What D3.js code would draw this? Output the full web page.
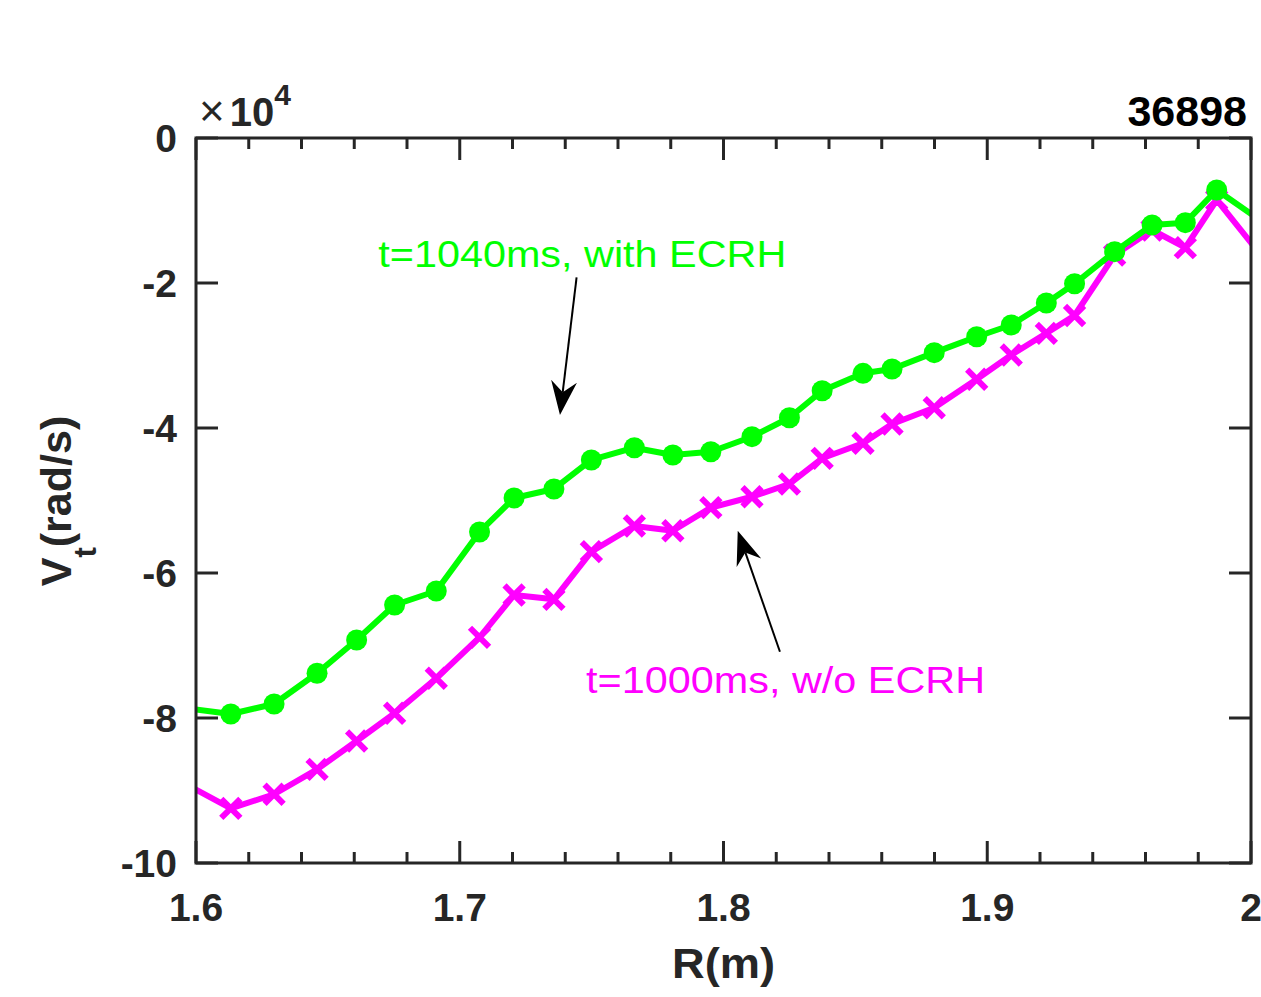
<!DOCTYPE html>
<html>
<head>
<meta charset="utf-8">
<title>Vt profile 36898</title>
<style>
  body { margin: 0; background: #fff; }
  text { font-family: 'Liberation Sans', Arial, sans-serif; }
</style>
<script src="https://d3js.org/d3.v7.min.js"></script>
</head>
<body>
<div id="container"></div>
<script>
// ******* Data (Vt in units of 1e4 rad/s) *******
const radius = [1.597, 1.6132, 1.6296, 1.6459, 1.6609, 1.6753, 1.6911, 1.7075, 1.7206, 1.7357,
                1.7499, 1.7662, 1.7808, 1.7952, 1.8108, 1.8250, 1.8374, 1.8529, 1.8639, 1.8799,
                1.8960, 1.9091, 1.9224, 1.9331, 1.9483, 1.9625, 1.9751, 1.9870, 2.010];

const vtWithEcrh = [-7.87, -7.945, -7.807, -7.383, -6.924, -6.441, -6.248, -5.434, -4.966, -4.841,
                    -4.441, -4.272, -4.372, -4.327, -4.120, -3.858, -3.486, -3.246, -3.186, -2.961,
                    -2.741, -2.579, -2.276, -2.010, -1.568, -1.200, -1.168, -0.717, -1.30];

const vtWithoutEcrh = [-8.93, -9.246, -9.052, -8.708, -8.317, -7.935, -7.452, -6.887, -6.303, -6.363,
                       -5.706, -5.352, -5.417, -5.099, -4.948, -4.772, -4.418, -4.211, -3.945, -3.720,
                       -3.328, -2.993, -2.694, -2.448, -1.614, -1.269, -1.513, -0.855, -1.90];

const xTicks = [1.6, 1.7, 1.8, 1.9, 2.0];
const xTickLabels = ["1.6", "1.7", "1.8", "1.9", "2"];
const xMinorTicks = d3.range(1.62, 2.0, 0.02);
const yTicks = [0, -2, -4, -6, -8, -10];
const yTickLabels = ["0", "-2", "-4", "-6", "-8", "-10"];

// annotation text + arrows: [R, Vt] in data units
const labelWith = { text: "t=1040ms, with ECRH", at: [1.6691, -1.779] };
const labelWithout = { text: "t=1000ms, w/o ECRH", at: [1.7479, -7.655] };
const arrowWith = { from: [1.7443, -1.921], to: [1.7380, -3.821] };
const arrowWithout = { from: [1.8214, -7.086], to: [1.8054, -5.417] };

// ******* Constants *******
const width = 1261,
      height = 997,
      margin = { top: 138, bottom: 134, left: 196, right: 10 };
const axisColor = "#262626";
const green = "#00ff00", magenta = "#ff00ff";

// ******* Scales *******
const x = d3.scaleLinear()
    .domain([1.6, 2.0])
    .range([margin.left, width - margin.right]);
const y = d3.scaleLinear()
    .domain([-10, 0])
    .range([height - margin.bottom, margin.top]);

const svg = d3.select("#container").append("svg")
    .attr("width", width)
    .attr("height", height)
    .style("display", "block");

const x0 = x.range()[0], x1 = x.range()[1];
const y0 = y.range()[1], y1 = y.range()[0];

svg.append("clipPath").attr("id", "plot-clip")
  .append("rect")
    .attr("x", x0).attr("y", y0)
    .attr("width", x1 - x0).attr("height", y1 - y0);

// ******* Series *******
const line = d3.line()
    .x(d => x(d[0]))
    .y(d => y(d[1]));

const inDomain = d => d[0] >= 1.6 && d[0] <= 2.0;

const dataWithout = radius.map((r, i) => [r, vtWithoutEcrh[i]]);
const dataWith = radius.map((r, i) => [r, vtWithEcrh[i]]);

const plot = svg.append("g").attr("clip-path", "url(#plot-clip)");

plot.append("path")
    .datum(dataWithout)
    .attr("fill", "none")
    .attr("stroke", magenta)
    .attr("stroke-width", 6)
    .attr("stroke-linejoin", "round")
    .attr("d", line);

const cross = d3.symbol().type(d3.symbolX).size(240);
plot.selectAll("path.xmark")
    .data(dataWithout.filter(inDomain))
    .enter().append("path")
    .attr("class", "xmark")
    .attr("d", cross())
    .attr("stroke", magenta)
    .attr("stroke-width", 6)
    .attr("fill", "none")
    .attr("transform", d => `translate(${x(d[0])},${y(d[1])})`);

plot.append("path")
    .datum(dataWith)
    .attr("fill", "none")
    .attr("stroke", green)
    .attr("stroke-width", 6)
    .attr("stroke-linejoin", "round")
    .attr("d", line);

plot.selectAll("circle.dot")
    .data(dataWith.filter(inDomain))
    .enter().append("circle")
    .attr("class", "dot")
    .attr("cx", d => x(d[0]))
    .attr("cy", d => y(d[1]))
    .attr("r", 10.5)
    .attr("fill", green);

// ******* Axes box + ticks *******
const axes = svg.append("g").attr("stroke", axisColor).attr("stroke-width", 3);

axes.append("rect")
    .attr("x", x0).attr("y", y0)
    .attr("width", x1 - x0).attr("height", y1 - y0)
    .attr("fill", "none");

const majorLen = 22, minorLen = 11;

xTicks.forEach(t => {
  axes.append("line").attr("x1", x(t)).attr("x2", x(t)).attr("y1", y1).attr("y2", y1 - majorLen);
  axes.append("line").attr("x1", x(t)).attr("x2", x(t)).attr("y1", y0).attr("y2", y0 + majorLen);
});
xMinorTicks.forEach(t => {
  if (xTicks.some(m => Math.abs(m - t) < 1e-6)) return;
  axes.append("line").attr("x1", x(t)).attr("x2", x(t)).attr("y1", y1).attr("y2", y1 - minorLen);
  axes.append("line").attr("x1", x(t)).attr("x2", x(t)).attr("y1", y0).attr("y2", y0 + minorLen);
});
yTicks.forEach(t => {
  axes.append("line").attr("y1", y(t)).attr("y2", y(t)).attr("x1", x0).attr("x2", x0 + majorLen);
  axes.append("line").attr("y1", y(t)).attr("y2", y(t)).attr("x1", x1).attr("x2", x1 - majorLen);
});

// tick labels
svg.append("g").selectAll("text")
    .data(xTicks)
    .enter().append("text")
    .attr("x", d => x(d))
    .attr("y", y1 + 58)
    .attr("text-anchor", "middle")
    .attr("font-size", 39)
    .attr("font-weight", "bold")
    .attr("fill", axisColor)
    .text((d, i) => xTickLabels[i]);

svg.append("g").selectAll("text")
    .data(yTicks)
    .enter().append("text")
    .attr("x", x0 - 19)
    .attr("y", d => y(d) + 14)
    .attr("text-anchor", "end")
    .attr("font-size", 39)
    .attr("font-weight", "bold")
    .attr("fill", axisColor)
    .text((d, i) => yTickLabels[i]);

// exponent
const expo = svg.append("text")
    .attr("x", 199)
    .attr("y", 126)
    .attr("fill", axisColor);
expo.append("tspan").attr("font-size", 44).text("\u00d7");
expo.append("tspan").attr("font-size", 40).attr("font-weight", "bold").attr("dx", 5).text("10");
expo.append("tspan").attr("font-size", 30).attr("font-weight", "bold").attr("dy", -21).text("4");

// title (shot number)
svg.append("text")
    .attr("x", 1247)
    .attr("y", 126)
    .attr("text-anchor", "end")
    .attr("font-size", 43)
    .attr("font-weight", "bold")
    .attr("fill", "#000")
    .text("36898");

// axis titles
svg.append("text")
    .attr("x", (x0 + x1) / 2)
    .attr("y", 978)
    .attr("text-anchor", "middle")
    .attr("font-size", 42)
    .attr("font-weight", "bold")
    .attr("fill", axisColor)
    .attr("textLength", 103)
    .attr("lengthAdjust", "spacingAndGlyphs")
    .text("R(m)");

const ylab = svg.append("text")
    .attr("transform", "translate(71,501) rotate(-90)")
    .attr("text-anchor", "middle")
    .attr("font-size", 43)
    .attr("font-weight", "bold")
    .attr("fill", axisColor);
ylab.append("tspan").text("V");
ylab.append("tspan").attr("font-size", 31).attr("dy", 25).text("t");
ylab.append("tspan").attr("dy", -25).text("(rad/s)");

// ******* Annotations *******
svg.append("text")
    .attr("x", x(labelWith.at[0]))
    .attr("y", y(labelWith.at[1]))
    .attr("font-size", 37)
    .attr("fill", green)
    .attr("textLength", 408)
    .attr("lengthAdjust", "spacingAndGlyphs")
    .text(labelWith.text);

svg.append("text")
    .attr("x", x(labelWithout.at[0]))
    .attr("y", y(labelWithout.at[1]))
    .attr("font-size", 36)
    .attr("fill", magenta)
    .attr("textLength", 399)
    .attr("lengthAdjust", "spacingAndGlyphs")
    .text(labelWithout.text);

function drawArrow(a) {
  const tx = x(a.from[0]), ty = y(a.from[1]);
  const hx = x(a.to[0]), hy = y(a.to[1]);
  const len = Math.hypot(tx - hx, ty - hy);
  const ux = (tx - hx) / len, uy = (ty - hy) / len;
  const px = -uy, py = ux;
  const headLen = 34, half = 13, notch = 23;
  svg.append("line")
      .attr("x1", tx).attr("y1", ty)
      .attr("x2", hx + ux * notch).attr("y2", hy + uy * notch)
      .attr("stroke", "#000")
      .attr("stroke-width", 2);
  const pts = [
    [hx, hy],
    [hx + ux * headLen + px * half, hy + uy * headLen + py * half],
    [hx + ux * notch, hy + uy * notch],
    [hx + ux * headLen - px * half, hy + uy * headLen - py * half]
  ];
  svg.append("path")
      .attr("d", "M" + pts.map(p => p.join(",")).join("L") + "Z")
      .attr("fill", "#000");
}
drawArrow(arrowWith);
drawArrow(arrowWithout);
</script>
</body>
</html>
